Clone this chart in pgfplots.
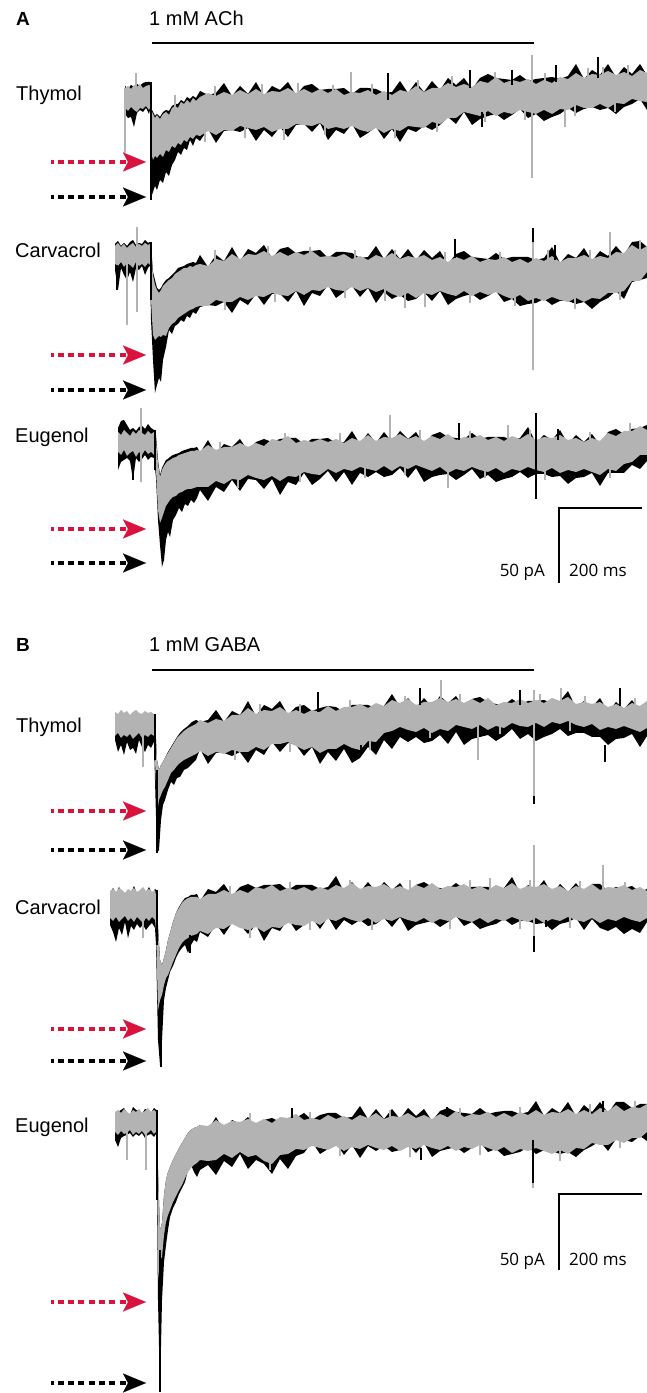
\documentclass[border=0pt]{standalone}
\usepackage{pgfplots}
\pgfplotsset{compat=1.18}
\usepackage{pgfplotstable}
\usepgfplotslibrary{fillbetween}
\usetikzlibrary{arrows.meta}
\usepackage{fontspec}
\setmainfont{Liberation Sans}
\newfontfamily\scalefont{Open Sans}
\definecolor{trgray}{RGB}{179,179,179}
\definecolor{arrred}{RGB}{218,18,62}

\pgfplotstableread{
x bt gt gb bb
125 86 88 108 114
128 89 86 111 118
131 85 89 107 117
134 87 85 110 127
137 84 87 112 113
140 86 84 108 110
143 83 88 109 112
146 82 86 106 108
149 82 85 110 114
150 82 86 108 110
151 108 110 152 198
153 112 114 160 192
155 116 118 156 186
157 114 115 158 190
160 117 119 154 180
163 112 114 157 183
166 110 112 150 172
169 111 115 152 176
172 106 108 146 165
175 104 106 148 160
178 104 108 143 152
181 100 102 145 155
184 102 104 140 148
187 97 100 142 150
190 99 103 137 140
193 96 98 139 146
196 98 101 135 138
200 91 97 136 141
208 95 93 131 129
216 93 96 135 143
224 83 92 130 131
232 96 95 131 130
240 86 90 126 132
248 94 94 128 128
256 82 89 130 141
264 96 94 127 130
272 86 91 132 137
280 90 92 129 127
288 82 88 129 137
296 95 93 124 125
304 86 89 125 124
312 84 93 126 132
320 90 89 123 123
328 89 93 129 140
336 89 89 127 130
344 88 95 129 134
352 94 92 126 124
360 88 93 130 138
368 88 90 132 133
376 89 95 128 127
384 93 91 133 139
392 92 95 129 129
400 81 90 131 142
408 93 92 126 129
416 82 86 127 132
424 92 92 128 126
432 81 88 122 130
440 90 88 124 125
448 78 83 118 117
456 85 87 118 124
464 78 84 112 112
472 89 87 114 125
480 78 81 116 119
488 74 83 111 116
496 78 77 116 114
504 79 83 112 120
512 80 80 114 115
520 75 82 110 109
528 81 79 112 118
536 79 84 114 114
544 78 80 110 121
552 77 83 114 117
560 79 77 109 114
568 76 79 110 108
576 64 73 105 113
584 79 78 108 109
592 70 74 108 107
600 75 75 104 110
608 64 71 108 108
616 77 75 103 114
624 67 72 104 107
632 74 76 99 104
640 64 70 101 99
647 75 73 102 110
}\Aone

\pgfplotstableread{
x bt gt gb bb
115 244 246 264 270
118 241 243 266 290
121 246 247 262 268
124 243 244 267 275
127 246 248 263 280
130 242 245 265 272
133 240 243 268 282
136 245 247 262 268
139 243 244 266 270
142 244 246 264 266
145 240 243 267 275
148 243 245 263 268
150 242 244 265 266
151 244 250 300 320
153 272 275 335 360
155 280 285 340 393
157 288 290 338 385
159 290 293 336 378
161 288 290 337 382
163 284 286 335 360
166 280 283 336 347
169 278 280 328 330
172 275 278 324 334
175 272 274 322 326
178 268 272 318 324
181 267 270 316 320
184 266 268 314 322
187 264 268 312 316
190 263 266 310 318
193 262 267 309 312
196 263 265 307 314
200 255 264 306 307
208 267 266 306 305
216 255 259 300 306
224 261 261 302 302
232 247 254 302 313
240 261 259 297 300
248 249 254 300 305
256 253 255 296 294
264 245 251 297 305
272 258 256 293 294
280 249 252 295 294
288 247 256 296 302
296 253 252 291 291
304 251 255 295 306
312 251 251 290 293
320 250 257 291 296
328 258 256 287 285
336 252 257 290 298
344 252 254 291 292
352 253 259 287 286
360 258 256 291 297
368 257 260 288 288
376 246 255 292 303
384 259 258 289 292
392 249 253 294 299
400 259 259 297 295
408 249 256 293 301
416 260 258 298 299
424 250 255 293 292
432 258 260 295 301
440 251 257 291 291
448 264 262 294 305
456 254 257 296 299
464 251 260 291 296
472 257 256 296 294
480 258 262 292 300
488 259 259 295 296
496 253 260 292 291
504 259 257 296 302
512 257 262 299 299
520 257 259 295 306
528 257 263 301 304
536 260 258 298 303
544 258 261 301 299
552 247 256 297 305
560 263 262 300 301
568 254 258 302 301
576 258 258 298 304
584 248 255 302 302
592 261 259 298 309
600 251 256 299 302
608 256 258 293 298
616 246 252 293 291
624 255 253 291 299
632 242 245 281 282
640 241 250 281 280
647 247 246 272 278
}\Atwo

\pgfplotstableread{
x bt gt gb bb
118 428 432 452 470
121 421 435 455 462
124 420 430 450 460
127 425 433 456 458
130 430 436 453 461
133 428 431 451 480
136 431 434 457 458
139 427 430 452 462
142 426 433 455 459
145 429 435 450 455
148 424 431 454 460
151 428 434 452 457
154 430 432 455 458
156 435 440 470 478
158 460 463 510 520
160 475 477 523 545
162 468 470 518 567
164 464 466 512 560
166 460 463 506 540
168 459 461 503 532
170 457 460 500 537
173 455 458 497 520
176 454 457 496 515
179 453 455 493 508
182 451 454 492 512
185 450 453 490 504
188 449 452 489 506
191 448 451 489 500
194 448 451 488 503
197 447 450 487 498
200 453 451 487 490
208 440 445 487 501
216 454 450 481 487
224 444 447 484 492
232 447 447 479 480
240 439 443 480 491
248 451 447 475 479
256 442 443 478 480
264 439 446 480 489
272 442 439 476 479
280 439 441 481 495
288 438 436 476 482
296 438 443 477 485
304 444 440 472 473
312 439 442 474 485
320 439 439 475 479
328 438 442 469 471
336 443 439 473 482
344 442 443 469 472
352 431 438 471 485
360 444 441 467 473
368 433 435 469 477
376 443 441 471 472
384 432 437 466 477
392 442 438 471 475
400 431 434 466 468
408 439 439 469 478
416 432 436 465 468
424 445 441 468 482
432 435 436 471 477
440 432 439 467 475
448 437 434 473 474
456 438 440 469 480
464 439 437 471 475
472 433 438 467 469
480 439 435 470 479
488 437 440 472 475
496 437 437 468 482
504 437 441 473 479
512 440 436 469 477
520 438 439 471 472
528 427 434 467 478
536 443 440 470 474
544 435 437 472 474
552 440 438 468 477
560 430 435 473 476
568 444 440 470 484
576 435 438 472 478
584 442 442 469 477
592 434 438 472 473
600 445 441 475 486
608 432 433 469 473
616 429 436 471 473
624 434 431 464 473
632 429 431 462 465
640 428 426 455 469
647 425 430 455 461
}\Athree

\pgfplotstableread{
x bt gt gb bb
115 714 712 736 740
118 716 714 733 752
121 712 710 738 745
124 715 713 735 755
127 713 711 737 742
130 716 715 734 750
133 714 712 739 748
136 712 710 736 754
139 715 713 733 740
142 716 714 738 747
145 713 711 735 752
148 715 713 737 745
151 714 712 734 748
154 716 714 736 742
155 718 720 760 780
157 760 760 813 853
159 770 770 800 850
161 765 765 795 820
163 762 762 790 805
165 758 758 787 800
168 752 753 780 790
171 747 748 773 782
174 742 743 770 785
177 737 738 766 778
180 733 735 763 777
184 729 731 760 770
188 726 728 758 768
192 722 726 756 764
196 720 724 754 760
200 722 720 751 749
208 720 723 756 764
216 710 719 752 753
224 722 721 754 753
232 711 715 750 756
240 715 715 752 752
248 701 708 752 763
256 716 714 747 750
264 705 710 750 755
272 709 711 744 742
280 701 707 744 752
288 715 713 742 743
296 707 710 746 745
304 705 714 750 756
312 711 710 747 747
320 708 712 753 764
328 706 706 749 752
336 707 711 749 761
344 712 707 744 749
352 705 707 748 763
360 705 704 750 758
368 705 708 741 747
376 708 703 742 755
384 706 706 733 740
392 694 700 731 749
400 707 703 727 737
408 698 699 730 742
416 708 705 732 737
424 698 702 728 743
432 707 702 733 741
440 696 698 729 735
448 703 702 731 744
456 696 699 725 732
464 708 703 727 745
472 699 699 729 739
480 697 703 725 737
488 702 698 730 735
496 704 705 726 741
504 705 702 728 736
512 699 703 723 729
520 704 699 726 739
528 701 703 727 734
536 701 700 723 741
544 700 703 727 737
552 703 698 722 734
560 701 701 724 729
568 691 697 721 736
576 708 704 725 733
584 701 702 727 733
592 707 704 724 737
600 698 702 730 737
608 712 707 727 745
616 702 704 729 739
624 709 708 726 738
632 700 703 729 734
640 711 706 732 747
647 701 701 728 736
}\Bone

\pgfplotstableread{
x bt gt gb bb
110 893 891 918 925
113 888 889 921 932
116 894 892 917 942
119 887 888 922 928
122 892 890 919 935
125 895 893 916 922
128 891 889 921 938
131 893 891 918 926
134 886 888 922 930
137 894 892 917 924
140 892 890 920 928
143 889 887 923 925
146 893 891 918 930
149 887 889 921 926
152 894 892 917 923
155 889 890 920 928
156 890 895 930 945
158 925 930 1010 1040
160 960 960 1000 1065
162 965 965 995 1040
164 958 958 985 1000
166 950 950 978 988
168 940 940 975 980
170 933 933 970 972
173 922 922 962 966
176 913 913 955 958
179 907 908 948 952
182 902 903 943 948
185 898 900 940 945
188 897 898 938 953
191 895 897 936 945
194 895 897 935 940
197 894 897 934 942
200 901 899 931 932
208 889 894 934 937
216 892 894 928 924
224 884 890 929 935
232 896 894 924 923
240 887 890 928 925
248 884 893 930 934
256 888 887 927 925
264 885 889 932 941
272 885 885 927 928
280 884 891 928 931
288 890 888 923 919
296 885 890 925 931
304 885 887 926 925
312 885 891 921 918
320 889 887 925 929
328 887 890 919 917
336 876 885 921 930
344 892 888 917 920
352 882 883 920 925
360 892 889 922 920
368 882 886 918 926
376 892 887 923 924
384 882 884 919 918
392 890 889 921 927
400 883 886 917 917
408 895 890 920 931
416 885 885 922 925
424 882 888 918 923
432 887 883 923 921
440 888 889 919 927
448 889 886 921 922
456 883 887 917 916
464 889 884 920 926
472 887 889 922 922
480 887 886 918 929
488 887 890 923 926
496 890 885 919 924
504 888 888 921 919
512 877 883 917 925
520 893 889 920 921
528 885 886 922 921
536 890 887 918 924
544 880 884 923 923
552 894 889 919 930
560 884 886 921 924
568 892 891 917 922
576 883 886 920 918
584 894 889 922 930
592 884 884 918 919
600 884 890 923 928
608 891 887 919 931
616 887 888 921 927
624 888 885 917 934
632 886 890 920 929
640 892 887 922 933
647 889 891 918 922
}\Btwo

\pgfplotstableread{
x bt gt gb bb
115 1114 1112 1132 1140
118 1112 1110 1135 1147
121 1110 1113 1131 1138
124 1108 1109 1134 1136
127 1113 1112 1133 1135
130 1115 1114 1130 1133
133 1107 1110 1135 1137
136 1110 1112 1132 1134
139 1111 1109 1134 1136
142 1114 1113 1131 1133
145 1109 1111 1135 1138
148 1110 1108 1133 1135
151 1113 1112 1130 1134
154 1108 1110 1134 1137
156 1110 1112 1132 1134
157 1110 1115 1150 1200
158 1170 1170 1280 1300
160 1230 1230 1260 1392
162 1223 1223 1257 1300
164 1195 1195 1235 1262
166 1180 1180 1222 1245
168 1172 1172 1215 1230
170 1167 1167 1210 1217
173 1160 1160 1202 1208
176 1154 1154 1196 1202
179 1148 1148 1190 1194
182 1143 1143 1185 1188
185 1138 1138 1178 1182
188 1133 1133 1172 1170
191 1130 1130 1168 1165
194 1128 1128 1165 1172
197 1127 1127 1163 1177
200 1125 1125 1160 1170
208 1130 1126 1161 1165
216 1117 1120 1160 1175
224 1131 1125 1154 1161
232 1120 1121 1158 1167
240 1124 1122 1152 1154
248 1117 1119 1157 1169
256 1129 1123 1155 1160
264 1120 1119 1161 1164
272 1118 1123 1164 1174
280 1122 1117 1155 1159
288 1118 1118 1154 1169
296 1118 1114 1149 1156
304 1113 1120 1150 1153
312 1120 1118 1146 1142
320 1115 1120 1148 1154
328 1113 1115 1150 1149
336 1113 1119 1146 1143
344 1118 1116 1151 1155
352 1117 1120 1147 1145
360 1106 1115 1149 1158
368 1119 1118 1145 1146
376 1109 1113 1148 1151
384 1119 1119 1150 1146
392 1109 1116 1146 1152
400 1119 1117 1151 1150
408 1108 1113 1147 1144
416 1116 1118 1149 1153
424 1109 1115 1145 1143
432 1121 1119 1148 1157
440 1111 1114 1150 1151
448 1108 1117 1146 1149
456 1112 1111 1151 1147
464 1113 1117 1147 1153
472 1114 1114 1149 1148
480 1108 1115 1145 1142
488 1114 1112 1148 1152
496 1112 1117 1151 1149
504 1111 1113 1147 1156
512 1111 1117 1153 1154
520 1114 1112 1149 1152
528 1112 1115 1151 1147
536 1101 1110 1148 1154
544 1116 1115 1151 1150
552 1108 1112 1154 1151
560 1113 1113 1150 1154
568 1102 1109 1154 1152
576 1116 1114 1148 1157
584 1105 1110 1149 1150
592 1112 1114 1143 1146
600 1102 1108 1145 1141
608 1113 1111 1145 1151
616 1102 1105 1140 1139
624 1102 1111 1143 1140
632 1108 1107 1138 1142
640 1104 1108 1138 1136
647 1104 1104 1132 1141
}\Bthree

\newcommand{\drawtrace}[2]{%
  \addplot[draw=none, forget plot, name path=#2bt] table[x=x,y=bt]{#1};
  \addplot[draw=none, forget plot, name path=#2bb] table[x=x,y=bb]{#1};
  \addplot[draw=none, forget plot, name path=#2gt] table[x=x,y=gt]{#1};
  \addplot[draw=none, forget plot, name path=#2gb] table[x=x,y=gb]{#1};
  \addplot[black, forget plot] fill between[of=#2bt and #2bb];
  \addplot[trgray, forget plot] fill between[of=#2gt and #2gb];
}

\tikzset{
  redarr/.style={arrred, line width=4.2bp, dash pattern=on 6bp off 4.3bp, dash phase=3.5bp,
    -{Stealth[length=23bp, width=19bp, inset=5bp, line width=0.1bp]}},
  blkarr/.style={black, line width=4.2bp, dash pattern=on 6bp off 4.3bp, dash phase=3.5bp,
    -{Stealth[length=23bp, width=19bp, inset=5bp, line width=0.1bp]}},
  lab/.style={anchor=base west, inner sep=0pt, font=\fontsize{20bp}{24bp}\selectfont},
  sclab/.style={inner sep=0pt, font=\scalefont\fontsize{17bp}{20bp}\selectfont},
}

\begin{document}
\begin{tikzpicture}
\begin{axis}[
  width=647bp, height=1393bp, scale only axis,
  xmin=0, xmax=647, ymin=0, ymax=1393, y dir=reverse,
  hide axis, unbounded coords=jump,
]
\addplot[draw=none, forget plot] coordinates {(0,0) (647,1393)};

\drawtrace{\Aone}{aone}
\drawtrace{\Atwo}{atwo}
\drawtrace{\Athree}{athree}
\drawtrace{\Bone}{bone}
\drawtrace{\Btwo}{btwo}
\drawtrace{\Bthree}{bthree}

% thin gray noise strokes at the band edges
\addplot[trgray, line width=1.1bp, forget plot] coordinates {
(175,95) (175,110) (0,nan) (215,86) (215,100) (0,nan) (262,84) (262,96) (0,nan)
(298,83) (298,95) (0,nan) (333,85) (333,96) (0,nan) (372,84) (372,96) (0,nan)
(418,80) (418,92) (0,nan) (452,76) (452,90) (0,nan) (495,72) (495,84) (0,nan)
(545,73) (545,85) (0,nan) (588,68) (588,80) (0,nan) (628,65) (628,78) (0,nan)
(205,130) (205,142) (0,nan) (245,125) (245,138) (0,nan) (284,126) (284,140) (0,nan)
(325,122) (325,135) (0,nan) (395,126) (395,138) (0,nan) (437,120) (437,132) (0,nan)
(485,110) (485,122) (0,nan) (525,108) (525,120) (0,nan) (575,104) (575,116) (0,nan)
(615,100) (615,112) (0,nan)
(215,250) (215,262) (0,nan) (268,246) (268,258) (0,nan) (310,247) (310,258) (0,nan)
(355,250) (355,260) (0,nan) (395,250) (395,262) (0,nan) (445,252) (445,264) (0,nan)
(500,252) (500,264) (0,nan) (548,250) (548,262) (0,nan) (590,250) (590,262) (0,nan)
(640,240) (640,252) (0,nan)
(225,297) (225,310) (0,nan) (275,290) (275,302) (0,nan) (345,286) (345,298) (0,nan)
(385,288) (385,301) (0,nan) (470,290) (470,303) (0,nan) (515,293) (515,306) (0,nan)
(575,296) (575,309) (0,nan) (620,288) (620,300) (0,nan)
(220,442) (220,452) (0,nan) (285,433) (285,444) (0,nan) (340,433) (340,444) (0,nan)
(420,430) (420,441) (0,nan) (470,431) (470,441) (0,nan) (530,430) (530,441) (0,nan)
(590,432) (590,443) (0,nan) (630,423) (630,433) (0,nan)
(238,476) (238,488) (0,nan) (300,470) (300,482) (0,nan) (365,466) (365,478) (0,nan)
(405,463) (405,475) (0,nan) (485,466) (485,478) (0,nan) (545,467) (545,480) (0,nan)
(610,465) (610,478) (0,nan)
(260,704) (260,714) (0,nan) (300,704) (300,715) (0,nan) (350,700) (350,710) (0,nan)
(405,696) (405,706) (0,nan) (460,694) (460,704) (0,nan) (540,694) (540,704) (0,nan)
(585,696) (585,707) (0,nan) (635,698) (635,708) (0,nan)
(235,748) (235,760) (0,nan) (290,740) (290,752) (0,nan) (370,738) (370,750) (0,nan)
(430,726) (430,738) (0,nan) (500,722) (500,734) (0,nan) (570,719) (570,731) (0,nan)
(230,886) (230,897) (0,nan) (290,882) (290,892) (0,nan) (350,880) (350,890) (0,nan)
(410,880) (410,890) (0,nan) (470,880) (470,891) (0,nan) (530,880) (530,891) (0,nan)
(580,881) (580,892) (0,nan) (625,882) (625,892) (0,nan)
(250,925) (250,938) (0,nan) (310,918) (310,930) (0,nan) (450,917) (450,929) (0,nan)
(520,917) (520,929) (0,nan) (570,917) (570,928) (0,nan)
(250,1113) (250,1124) (0,nan) (310,1112) (310,1122) (0,nan) (390,1110) (390,1120) (0,nan)
(460,1108) (460,1118) (0,nan) (520,1107) (520,1117) (0,nan) (590,1104) (590,1114) (0,nan)
(635,1101) (635,1111) (0,nan)
(270,1160) (270,1170) (0,nan) (340,1145) (340,1156) (0,nan) (410,1145) (410,1157) (0,nan)
(480,1143) (480,1155) (0,nan) (560,1150) (560,1161) (0,nan) (620,1137) (620,1148)
};

% gray spikes
\addplot[trgray, line width=1.3bp, forget plot] coordinates {
(125,88) (125,153) (0,nan)
(136,73) (136,95) (0,nan)
(351,72) (351,95) (0,nan)
(532,55) (532,178) (0,nan)
(565,108) (565,127) (0,nan)
(603,67) (603,80) (0,nan)
(127,255) (127,325) (0,nan)
(137,227) (137,312) (0,nan)
(405,290) (405,308) (0,nan)
(425,290) (425,307) (0,nan)
(533,230) (533,370) (0,nan)
(610,232) (610,260) (0,nan)
(141,408) (141,482) (0,nan)
(390,415) (390,440) (0,nan)
(508,425) (508,440) (0,nan)
(448,465) (448,488) (0,nan)
(143,730) (143,767) (0,nan)
(441,680) (441,702) (0,nan)
(561,688) (561,702) (0,nan)
(478,725) (478,760) (0,nan)
(534,690) (534,800) (0,nan)
(143,915) (143,938) (0,nan)
(534,845) (534,938) (0,nan)
(603,865) (603,890) (0,nan)
(490,878) (490,890) (0,nan)
(372,918) (372,930) (0,nan)
(127,1130) (127,1160) (0,nan)
(146,1130) (146,1170) (0,nan)
(533,1150) (533,1188)
};

% black spikes
\addplot[black, line width=1.3bp, forget plot] coordinates {
(151,82) (151,200) (0,nan)
(388,73) (388,100) (0,nan)
(470,70) (470,88) (0,nan)
(512,70) (512,85) (0,nan)
(556,65) (556,82) (0,nan)
(598,57) (598,78) (0,nan)
(482,112) (482,127) (0,nan)
(151,242) (151,300) (0,nan)
(117,265) (117,290) (0,nan)
(455,239) (455,258) (0,nan)
(533,228) (533,242) (0,nan)
(555,245) (555,260) (0,nan)
(536,413) (536,499) (0,nan)
(459,423) (459,440) (0,nan)
(558,429) (558,440) (0,nan)
(133,455) (133,480) (0,nan)
(155,430) (155,470) (0,nan)
(420,688) (420,705) (0,nan)
(318,692) (318,712) (0,nan)
(520,690) (520,705) (0,nan)
(620,688) (620,706) (0,nan)
(361,745) (361,753) (0,nan)
(605,745) (605,762) (0,nan)
(534,796) (534,804) (0,nan)
(155,714) (155,760) (0,nan)
(157,890) (157,945) (0,nan)
(534,936) (534,952) (0,nan)
(546,920) (546,927) (0,nan)
(190,935) (190,953) (0,nan)
(157,1110) (157,1200) (0,nan)
(533,1140) (533,1183) (0,nan)
(421,1148) (421,1160) (0,nan)
(447,1107) (447,1117) (0,nan)
(603,1101) (603,1112) (0,nan)
(292,1108) (292,1118)
};
\addplot[black, line width=2.6bp, forget plot] coordinates {
(157,770) (157,853) (0,nan)
(161,1000) (161,1067) (0,nan)
(160,1250) (160,1392)
};

% stimulus bars and scale bars
\addplot[black, line width=2.3bp, forget plot] coordinates {(152,43) (534,43)};
\addplot[black, line width=2.3bp, forget plot] coordinates {(152,670) (534,670)};
\addplot[black, line width=2.3bp, forget plot] coordinates {(642,508) (559,508) (559,583)};
\addplot[black, line width=2.3bp, forget plot] coordinates {(642,1194) (559,1194) (559,1270)};

% arrows
\addplot[redarr, forget plot] coordinates {(51,162) (146,162)};
\addplot[blkarr, forget plot] coordinates {(51,197) (146,197)};
\addplot[redarr, forget plot] coordinates {(51,355) (146,355)};
\addplot[blkarr, forget plot] coordinates {(51,390) (146,390)};
\addplot[redarr, forget plot] coordinates {(51,529) (146,529)};
\addplot[blkarr, forget plot] coordinates {(51,563) (146,563)};
\addplot[redarr, forget plot] coordinates {(51,811) (146,811)};
\addplot[blkarr, forget plot] coordinates {(51,850) (146,850)};
\addplot[redarr, forget plot] coordinates {(51,1029) (146,1029)};
\addplot[blkarr, forget plot] coordinates {(51,1061) (146,1061)};
\addplot[redarr, forget plot] coordinates {(51,1302) (146,1302)};
\addplot[blkarr, forget plot] coordinates {(51,1383) (146,1383)};

% texts
\node[anchor=base west, inner sep=0pt, font=\bfseries\fontsize{19bp}{22bp}\selectfont] at (axis cs:16,26) {A};
\node[lab] at (axis cs:149,26) {1 mM ACh};
\node[lab] at (axis cs:16,101) {Thymol};
\node[lab] at (axis cs:15,258) {Carvacrol};
\node[lab] at (axis cs:15,443) {Eugenol};
\node[sclab, anchor=base east] at (axis cs:545,577) {50 pA};
\node[sclab, anchor=base west] at (axis cs:569,577) {200 ms};

\node[anchor=base west, inner sep=0pt, font=\bfseries\fontsize{19bp}{22bp}\selectfont] at (axis cs:16,652) {B};
\node[lab] at (axis cs:149,652) {1 mM GABA};
\node[lab] at (axis cs:16,733) {Thymol};
\node[lab] at (axis cs:15,915) {Carvacrol};
\node[lab] at (axis cs:15,1133) {Eugenol};
\node[sclab, anchor=base east] at (axis cs:545,1266) {50 pA};
\node[sclab, anchor=base west] at (axis cs:569,1266) {200 ms};
\end{axis}
\end{tikzpicture}
\end{document}
